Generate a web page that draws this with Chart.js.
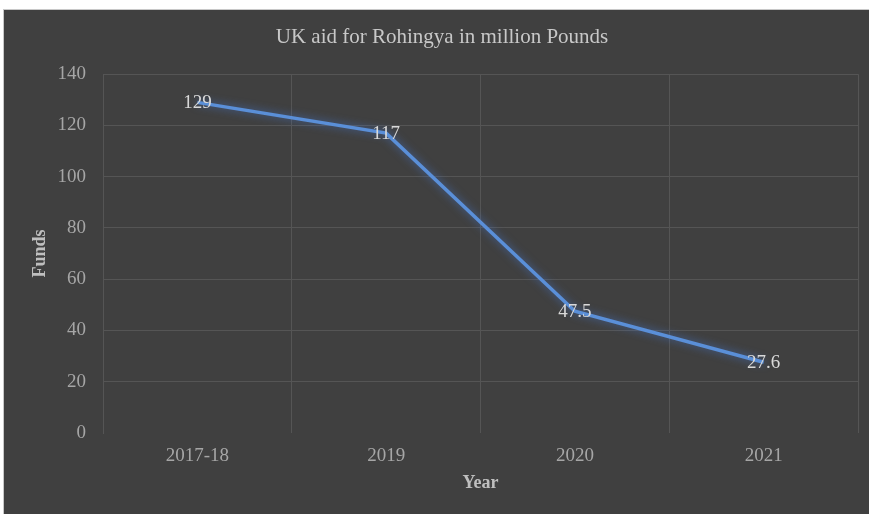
<!DOCTYPE html>
<html>
<head>
<meta charset="utf-8">
<script src="https://cdn.jsdelivr.net/npm/chart.js@4.4.1/dist/chart.umd.min.js"></script>
<style>
    html, body { margin: 0; padding: 0; background: #ffffff; }
    #frame {
        position: absolute; left: 3px; top: 9px;
        width: 866px; height: 505px;
        border-top: 1px solid #c8c8c8; border-left: 1px solid #c8c8c8;
        background: #404040;
    }
    #chart { display: block; }
</style>
</head>
<body>
<div id="frame"><canvas id="chart" width="865" height="504"></canvas></div>
<script>
const years = ['2017-18', '2019', '2020', '2021'];
const funds = [129, 117, 47.5, 27.6];
const yTicks = [0, 20, 40, 60, 80, 100, 120, 140];

const serif = '"Liberation Serif", "DejaVu Serif", serif';

// soft blue glow under the line, like the office chart effect
const glow = {
    id: 'glow',
    beforeDatasetDraw(chart) {
        const c = chart.ctx;
        c.save();
        c.shadowColor = 'rgba(70,120,210,0.75)';
        c.shadowBlur = 9;
    },
    afterDatasetDraw(chart) {
        chart.ctx.restore();
    }
};

// value labels sit right on the points
const valueLabels = {
    id: 'valueLabels',
    afterDatasetsDraw(chart) {
        const c = chart.ctx;
        const meta = chart.getDatasetMeta(0);
        c.save();
        c.font = '19px ' + serif;
        c.fillStyle = '#d9d9d9';
        c.textAlign = 'center';
        c.textBaseline = 'middle';
        meta.data.forEach((pt, i) => {
            c.fillText(String(funds[i]), pt.x, pt.y + 1);
        });
        c.restore();
    }
};

new Chart(document.getElementById('chart'), {
    type: 'line',
    data: {
        labels: years,
        datasets: [{
            data: funds,
            borderColor: '#5a8fd8',
            borderWidth: 3.5,
            pointRadius: 0,
            tension: 0,
            fill: false
        }]
    },
    options: {
        responsive: false,
        animation: false,
        layout: { padding: { left: 22, right: 11, top: 0, bottom: 0 } },
        plugins: {
            legend: { display: false },
            tooltip: { enabled: false },
            title: {
                display: true,
                text: 'UK aid for Rohingya in million Pounds',
                color: '#c8c8c8',
                font: { family: serif, size: 21, weight: 'normal' },
                padding: { top: 15, bottom: 24 }
            }
        },
        scales: {
            x: {
                offset: true,
                grid: { offset: true, color: '#555555', drawTicks: false },
                border: { display: false },
                ticks: {
                    color: '#a6a6a6',
                    font: { family: serif, size: 19 },
                    padding: 12
                },
                title: {
                    display: true,
                    text: 'Year',
                    color: '#bfbfbf',
                    font: { family: serif, size: 18, weight: 'bold' },
                    padding: { top: 0, bottom: 20 }
                },
                afterFit(scale) { scale.height = 81; }
            },
            y: {
                min: 0,
                max: 140,
                afterBuildTicks(scale) { scale.ticks = yTicks.map(v => ({ value: v })); },
                grid: {
                    color: ctx => ctx.tick && ctx.tick.value === 0 ? 'rgba(0,0,0,0)' : '#555555',
                    drawTicks: false
                },
                border: { display: true, color: '#555555' },
                ticks: {
                    color: '#a6a6a6',
                    font: { family: serif, size: 19 },
                    padding: 17
                },
                title: {
                    display: true,
                    text: 'Funds',
                    color: '#bfbfbf',
                    font: { family: serif, size: 18, weight: 'bold' },
                    padding: { top: 4, bottom: 0 }
                },
                afterFit(scale) { scale.width = 77; }
            }
        }
    },
    plugins: [glow, valueLabels]
});
</script>
</body>
</html>
